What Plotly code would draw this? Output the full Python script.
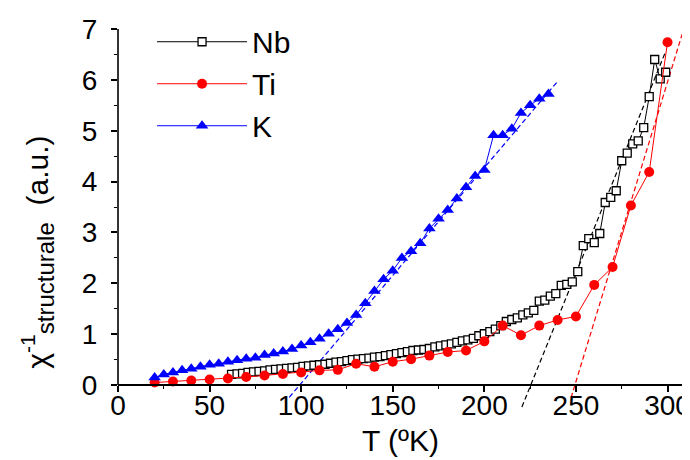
import plotly.graph_objects as go

# ---- data ----
T_nb = [62, 65, 68, 71, 74, 77, 80, 83, 86, 89, 92, 95, 98, 101, 104, 107, 110, 113, 116, 119,
        122, 125, 128, 131, 134, 137, 140, 143, 146, 149, 152, 155, 158, 161, 164, 167, 170, 173,
        176, 179, 182, 185, 188, 191, 194, 197, 200, 203, 206, 209, 212, 215, 218, 221, 224, 227,
        230, 233, 236, 239, 242, 245, 248, 251, 254, 257, 260, 263, 266, 269, 272, 275, 278, 281,
        284, 287, 290, 293, 296, 299]
chi_nb = [0.21, 0.22, 0.23, 0.25, 0.26, 0.27, 0.28, 0.30, 0.31, 0.32, 0.33, 0.34, 0.35, 0.37, 0.38,
          0.39, 0.40, 0.41, 0.43, 0.45, 0.46, 0.48, 0.50, 0.51, 0.52, 0.53, 0.55, 0.56, 0.58, 0.60,
          0.62, 0.64, 0.66, 0.68, 0.69, 0.70, 0.72, 0.75, 0.77, 0.79, 0.81, 0.84, 0.87, 0.89, 0.92,
          0.97, 1.01, 1.05, 1.10, 1.17, 1.25, 1.29, 1.32, 1.38, 1.42, 1.47, 1.65, 1.67, 1.75, 1.80,
          1.96, 1.98, 2.03, 2.23, 2.74, 2.88, 2.80, 2.98, 3.59, 3.69, 3.82, 4.41, 4.56, 4.74, 4.80,
          5.06, 5.67, 6.40, 6.02, 6.15]

T_ti = [20, 30, 40, 50, 60, 70, 80, 90, 100, 110, 120, 130, 140, 150, 160, 170, 180, 190, 200,
        210, 220, 230, 240, 250, 260, 270, 280, 290, 300]
chi_ti = [0.05, 0.07, 0.09, 0.11, 0.13, 0.16, 0.19, 0.22, 0.25, 0.29, 0.30, 0.42, 0.36, 0.46, 0.51,
          0.58, 0.65, 0.68, 0.86, 1.17, 0.98, 1.17, 1.28, 1.35, 1.97, 2.32, 3.53, 4.19, 6.74]

T_k = [20, 25, 30, 35, 40, 45, 50, 55, 60, 65, 70, 75, 80, 85, 90, 95, 100, 105, 110, 115, 120,
       125, 130, 135, 140, 145, 150, 155, 160, 165, 170, 175, 180, 185, 190, 195, 200, 205, 210,
       215, 220, 225, 230, 235]
chi_k = [0.15, 0.21, 0.25, 0.29, 0.32, 0.36, 0.40, 0.42, 0.46, 0.49, 0.52, 0.54, 0.59, 0.62, 0.66,
         0.71, 0.78, 0.84, 0.91, 1.01, 1.10, 1.22, 1.38, 1.61, 1.85, 2.08, 2.25, 2.50, 2.63, 2.79,
         3.08, 3.27, 3.44, 3.67, 3.89, 4.11, 4.23, 4.91, 4.91, 5.04, 5.35, 5.50, 5.63, 5.72]

# linear fits (dashed), end points
fit_nb_T = [220.5, 299.0]
fit_nb_y = [-0.43, 6.56]
fit_ti_T = [247.3, 308.0]
fit_ti_y = [-0.25, 6.90]
fit_k_T = [93.5, 239.5]
fit_k_y = [-0.24, 5.95]

x_ticks = [0, 50, 100, 150, 200, 250, 300]
y_ticks = [0, 1, 2, 3, 4, 5, 6, 7]

X_RANGE = [0, 315]
Y_RANGE = [-0.45, 7]

FONT = "Liberation Sans, Arial, Helvetica, sans-serif"
BLACK = "#000000"
RED = "#FF0000"
BLUE = "#0000FF"

fig = go.Figure()

for tx, ty, col in [(fit_nb_T, fit_nb_y, BLACK), (fit_ti_T, fit_ti_y, RED), (fit_k_T, fit_k_y, BLUE)]:
    fig.add_trace(go.Scatter(x=tx, y=ty, mode="lines", showlegend=False, hoverinfo="skip",
                             line=dict(color=col, width=1.2, dash="5px,3px")))

fig.add_trace(go.Scatter(x=T_nb, y=chi_nb, name="Nb", mode="lines+markers",
                         line=dict(color=BLACK, width=1),
                         marker=dict(symbol="square", size=8, color="white",
                                     line=dict(color=BLACK, width=1.3))))
fig.add_trace(go.Scatter(x=T_ti, y=chi_ti, name="Ti", mode="lines+markers",
                         line=dict(color=RED, width=1),
                         marker=dict(symbol="circle", size=10, color=RED,
                                     line=dict(color=RED, width=0))))
fig.add_trace(go.Scatter(x=T_k, y=chi_k, name="K", mode="lines+markers",
                         line=dict(color=BLUE, width=1),
                         marker=dict(symbol="triangle-up", size=11, color=BLUE,
                                     line=dict(color=BLUE, width=0))))

x_pos = (0 - Y_RANGE[0]) / (Y_RANGE[1] - Y_RANGE[0])

fig.update_layout(
    width=690, height=460,
    margin=dict(l=110, r=3, t=21, b=60),
    paper_bgcolor="white", plot_bgcolor="white",
    font=dict(family=FONT, size=30, color=BLACK),
    showlegend=True,
    legend=dict(x=0.059, y=1.035, xanchor="left", yanchor="top",
                bgcolor="rgba(0,0,0,0)", font=dict(size=30, family=FONT),
                itemwidth=90, tracegroupgap=0),
    xaxis=dict(range=X_RANGE, anchor="free", position=x_pos,
               showline=True, linecolor=BLACK, linewidth=1.6, mirror=False,
               showgrid=False, zeroline=False,
               tickmode="array", tickvals=x_ticks, ticks="outside", ticklen=6,
               tickwidth=1.6, tickcolor=BLACK, tickfont=dict(size=28, family=FONT),
               ticklabelstandoff=-11,
               minor=dict(dtick=25, tick0=0, ticks="outside", ticklen=3.5, tickwidth=1.3,
                          tickcolor=BLACK, showgrid=False)),
    yaxis=dict(range=Y_RANGE, showline=False, showgrid=False, zeroline=False,
               tickmode="array", tickvals=y_ticks, ticks="outside", ticklen=6,
               tickwidth=1.6, tickcolor=BLACK, tickfont=dict(size=28, family=FONT),
               ticklabelstandoff=8,
               minor=dict(dtick=0.5, tick0=0, ticks="outside", ticklen=3.5, tickwidth=1.3,
                          tickcolor=BLACK, showgrid=False)),
)

# y axis line from 0 to 7 only
fig.add_shape(type="line", xref="paper", yref="y", x0=0, x1=0, y0=0, y1=Y_RANGE[1],
              line=dict(color=BLACK, width=1.6), layer="above")

fig.add_annotation(text="χ<sup>-1</sup><sub><span style='font-size:24px'>structurale</span></sub>&nbsp; (a.u.)",
                   textangle=-90,
                   xref="paper", yref="paper", x=-0.1385, y=0.41,
                   xanchor="center", yanchor="middle", showarrow=False,
                   font=dict(size=30, family=FONT, color=BLACK))
fig.add_annotation(text="T (ºK)", xref="paper", yref="paper", x=0.49, y=-0.085,
                   xanchor="center", yanchor="middle", showarrow=False,
                   font=dict(size=30, family=FONT, color=BLACK))

fig.write_html("out.html")
